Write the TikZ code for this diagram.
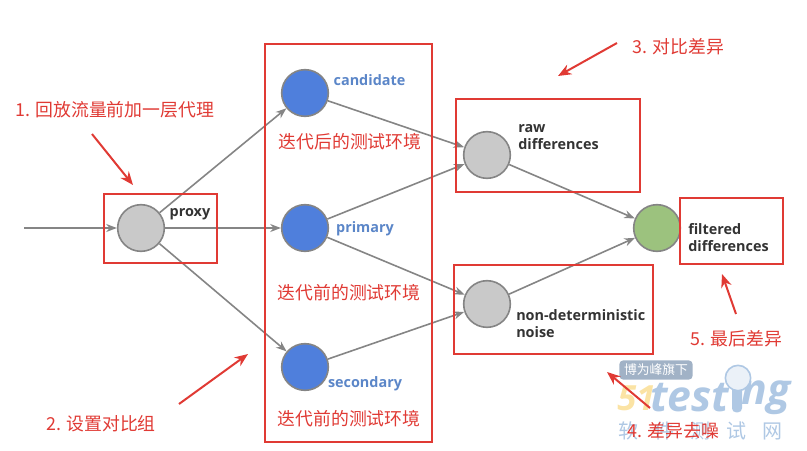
\documentclass[tikz,border=0pt]{standalone}
\usepackage{xcolor}
\usepackage{fontspec}
\setmainfont{Open Sans}
\newfontfamily\cjk{Noto Sans CJK SC}
\usetikzlibrary{arrows.meta,positioning,calc}
\definecolor{MarkRed}{HTML}{E03A34}
\definecolor{EdgeGray}{HTML}{858585}
\definecolor{NodeGray}{HTML}{C9C9C9}
\definecolor{NodeBlue}{HTML}{4F7FDC}
\definecolor{NodeGreen}{HTML}{9CC27E}
\definecolor{LabelBlue}{HTML}{5B86C8}
\definecolor{MarkBlue}{HTML}{AFC8E4}
\definecolor{MarkYellow}{HTML}{FBE3A4}

\begin{document}
\begin{tikzpicture}[
  x=0.75pt,y=-0.75pt,
  stagenode/.style={circle,draw=EdgeGray,line width=1.2pt,minimum size=35pt,inner sep=0pt},
  proxynode/.style={stagenode,fill=NodeGray},
  envnode/.style={stagenode,fill=NodeBlue},
  resultnode/.style={stagenode,fill=NodeGreen},
  arrow/.style={-{Stealth[length=8pt,width=6pt]},draw=EdgeGray,line width=1.2pt},
  redarrow/.style={-{Stealth[length=10pt,width=8pt]},draw=MarkRed,line width=1.5pt},
  redbox/.style={rectangle,draw=MarkRed,line width=1.5pt},
  note/.style={font=\cjk\fontsize{13.4}{15}\selectfont,text=MarkRed,inner sep=0pt},
  blacklabel/.style={font=\fontsize{10.8}{12.75}\selectfont\bfseries,text=black!80,align=left,inner sep=0pt},
  bluelabel/.style={font=\fontsize{10.8}{12}\selectfont\bfseries,text=LabelBlue,inner sep=0pt},
  logotext/.style={font=\fontsize{32}{32}\selectfont\bfseries\itshape,text=MarkBlue,inner sep=0pt,anchor=west}
]
\useasboundingbox (0,0) rectangle (807,450);

%% Watermark
\node[rectangle,rounded corners=3pt,fill=MarkBlue!70!gray,minimum width=55pt,minimum height=14.5pt,
  inner sep=0pt,font=\cjk\fontsize{9.6}{10}\selectfont,text=white] (badge) at (656,370) {博为峰旗下};
\node[logotext,font=\fontsize{26}{26}\selectfont\bfseries\itshape,text=MarkYellow] (fiveone) at (617,398) {51};
\node[logotext] (testword) at (650,398) {test};
\node[logotext] (ngword) at (741,398) {ng};
\node[rectangle,rounded corners=3pt,fill=MarkBlue,minimum width=7.5pt,minimum height=20pt,inner sep=0pt] (handle) at (737,399) {};
\node[circle,draw=MarkBlue,fill=MarkBlue!25,line width=1.2pt,minimum size=19pt,inner sep=0pt] (lens) at (738,378) {};
\node[font=\cjk\fontsize{15}{15}\selectfont,text=MarkBlue,inner sep=0pt] (markname) at (700,431) {软\hspace{12pt}件\hspace{12pt}测\hspace{12pt}试\hspace{12pt}网};

%% Nodes
\coordinate (input) at (24,228);
\node[proxynode] (proxy) at (141,228) {};
\node[envnode] (primary) at (305,228) {};
\node[envnode] (candidate) at (305,93) {};
\node[envnode] (secondary) at (305,367) {};
\node[proxynode] (raw) at (487,155) {};
\node[proxynode] (noise) at (487,304) {};
\node[resultnode] (filtered) at (657,228) {};

%% Labels
\node[blacklabel] (proxytext) at (190,214) {proxy};
\node[bluelabel] (candidatetext) at (369.5,80) {candidate};
\node[bluelabel] (primarytext) at (365,229) {primary};
\node[bluelabel] (secondarytext) at (365,384) {secondary};
\node[blacklabel,anchor=west] (rawtext) at (518,137) {raw\\differences};
\node[blacklabel,anchor=west] (noisetext) at (516,324) {non-deterministic\\noise};
\node[blacklabel,anchor=west] (filteredtext) at (688,238) {filtered\\differences};

%% Arrows
\draw[arrow] (input) -- (proxy);
\draw[arrow] (proxy) -- (candidate);
\draw[arrow] (proxy) -- (primary);
\draw[arrow] (proxy) -- (secondary);
\draw[arrow] (candidate) -- (raw);
\draw[arrow] (primary) -- (raw);
\draw[arrow] (primary) -- (noise);
\draw[arrow] (secondary) -- (noise);
\draw[arrow] (raw) -- (filtered);
\draw[arrow] (noise) -- (filtered);

%% Red boxes
\node[redbox,minimum width=84.75pt,minimum height=51.75pt] (proxybox) at (160.5,228.5) {};
\node[redbox,minimum width=125.25pt,minimum height=298.5pt] (envbox) at (348.5,243) {};
\node[redbox,minimum width=138pt,minimum height=69.75pt] (rawbox) at (548,145.5) {};
\node[redbox,minimum width=149.25pt,minimum height=66.75pt] (noisebox) at (553.5,309.5) {};
\node[redbox,minimum width=77.25pt,minimum height=49.5pt] (filteredbox) at (731.5,231) {};

%% Notes
\node[note,anchor=west] (stepone) at (15,110) {1. 回放流量前加一层代理};
\node[note,anchor=west] (steptwo) at (46,424) {2. 设置对比组};
\node[note,anchor=west] (stepthree) at (632,47) {3. 对比差异};
\node[note,anchor=west] (stepfour) at (627,431) {4. 差异去噪};
\node[note,anchor=west] (stepfive) at (690,339) {5. 最后差异};
\node[note] (afterenv) at (350,142) {迭代后的测试环境};
\node[note] (beforeenv) at (349,293) {迭代前的测试环境};
\node[note] (beforeenvb) at (349,419) {迭代前的测试环境};

%% Red arrows
\coordinate (onestart) at (92,134);
\coordinate (oneend) at (133,185);
\coordinate (twostart) at (179,404);
\coordinate (twoend) at (248,354);
\coordinate (threestart) at (617,43);
\coordinate (threeend) at (558,76);
\coordinate (fourstart) at (650,408);
\coordinate (fourend) at (607,372);
\coordinate (fivestart) at (736,314);
\coordinate (fiveend) at (722,274);
\draw[redarrow] (onestart) -- (oneend);
\draw[redarrow] (twostart) -- (twoend);
\draw[redarrow] (threestart) -- (threeend);
\draw[redarrow] (fourstart) -- (fourend);
\draw[redarrow] (fivestart) -- (fiveend);

\end{tikzpicture}
\end{document}
